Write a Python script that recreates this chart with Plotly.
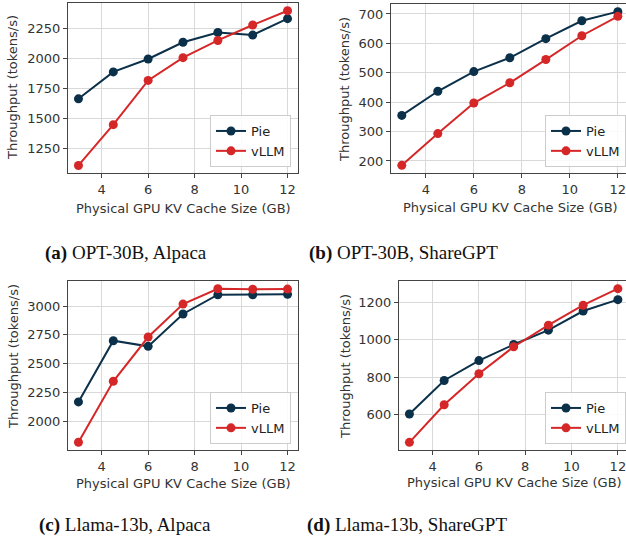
import plotly.graph_objects as go
from plotly.subplots import make_subplots

x_gb = [3, 4.5, 6, 7.5, 9, 10.5, 12]
x_ticks = [4, 6, 8, 10, 12]

a_pie = [1665, 1890, 1998, 2138, 2219, 2198, 2335]
a_vllm = [1108, 1449, 1819, 2009, 2153, 2282, 2401]
b_pie = [355, 437, 504, 551, 616, 677, 708]
b_vllm = [185, 293, 397, 466, 545, 626, 692]
c_pie = [2168, 2699, 2650, 2931, 3098, 3098, 3101]
c_vllm = [1818, 2347, 2731, 3017, 3150, 3145, 3147]
d_pie = [602, 782, 889, 975, 1052, 1155, 1216]
d_vllm = [450, 652, 818, 963, 1079, 1186, 1275]

a_yticks = [1250, 1500, 1750, 2000, 2250]
b_yticks = [200, 300, 400, 500, 600, 700]
c_yticks = [2000, 2250, 2500, 2750, 3000]
d_yticks = [600, 800, 1000, 1200]

captions = ["<b>(a)</b> OPT-30B, Alpaca", "<b>(b)</b> OPT-30B, ShareGPT",
            "<b>(c)</b> Llama-13b, Alpaca", "<b>(d)</b> Llama-13b, ShareGPT"]

PIE = "#0b3049"
VLLM = "#d62728"
W, H = 626, 546

fig = make_subplots(rows=2, cols=2)

panels = [
    (1, 1, a_pie, a_vllm, a_yticks, [2.55, 12.45], [1045, 2466], (68, 298, 3, 173), "legend"),
    (1, 2, b_pie, b_vllm, b_yticks, [2.55, 12.34], [159, 734], (391, 626, 4, 173), "legend2"),
    (2, 1, c_pie, c_vllm, c_yticks, [2.55, 12.45], [1751, 3217], (68, 298, 281, 450), "legend3"),
    (2, 2, d_pie, d_vllm, d_yticks, [2.55, 12.35], [409, 1316], (399, 626, 281, 450), "legend4"),
]

font_ax = dict(family="DejaVu Sans", size=13, color="#333333")

for i, (r, c, pie, vllm, yt, xr, yr, box, lg) in enumerate(panels):
    fig.add_trace(go.Scatter(x=x_gb, y=pie, name="Pie", mode="lines+markers",
                             line=dict(color=PIE, width=2), marker=dict(size=9, color=PIE),
                             legend=lg), row=r, col=c)
    fig.add_trace(go.Scatter(x=x_gb, y=vllm, name="vLLM", mode="lines+markers",
                             line=dict(color=VLLM, width=2), marker=dict(size=9, color=VLLM),
                             legend=lg), row=r, col=c)
    x0, x1, y0, y1 = box
    fig.update_xaxes(domain=[x0 / W, x1 / W], range=xr, tickvals=x_ticks,
                     showgrid=True, gridcolor="#d9d9d9", gridwidth=1,
                     showline=True, linecolor="#444444", linewidth=1, mirror=True,
                     ticks="outside", ticklen=4, tickcolor="#444444",
                     tickfont=font_ax, zeroline=False, ticklabeloverflow="allow",
                     row=r, col=c)
    fig.update_yaxes(domain=[1 - y1 / H, 1 - y0 / H], range=yr, tickvals=yt,
                     showgrid=True, gridcolor="#d9d9d9", gridwidth=1,
                     showline=True, linecolor="#444444", linewidth=1, mirror=True,
                     ticks="outside", ticklen=4, tickcolor="#444444",
                     tickfont=font_ax, zeroline=False, row=r, col=c)

legend_style = dict(bgcolor="rgba(255,255,255,0.85)", bordercolor="#cccccc", borderwidth=1,
                    font=dict(family="DejaVu Sans", size=13, color="#222222"),
                    xanchor="right", yanchor="bottom", tracegroupgap=0, itemwidth=30)
fig.update_layout(
    legend=dict(x=291 / W, y=1 - 167 / H, **legend_style),
    legend2=dict(x=1.0, y=1 - 167 / H, **legend_style),
    legend3=dict(x=291 / W, y=1 - 444 / H, **legend_style),
    legend4=dict(x=1.0, y=1 - 444 / H, **legend_style),
)

# axis titles
ytitle_pos = [(13, 88), (345, 90), (13, 357), (345, 367)]
xtitle_pos = [(183, 208), (510, 207), (183, 483), (514, 482)]
for (xx, yy) in ytitle_pos:
    fig.add_annotation(text="Throughput (tokens/s)", x=xx / W, y=1 - yy / H, xref="paper", yref="paper",
                       textangle=-90, showarrow=False, font=font_ax, xanchor="center", yanchor="middle")
for (xx, yy) in xtitle_pos:
    fig.add_annotation(text="Physical GPU KV Cache Size (GB)", x=xx / W, y=1 - yy / H, xref="paper", yref="paper",
                       showarrow=False, font=font_ax, xanchor="center", yanchor="middle")

cap_pos = [(126, 253), (403, 253), (125, 525), (407, 525)]
for cap, (xx, yy) in zip(captions, cap_pos):
    fig.add_annotation(text=cap, x=xx / W, y=1 - yy / H, xref="paper", yref="paper",
                       showarrow=False, font=dict(family="Liberation Serif", size=19, color="#111111"),
                       xanchor="center", yanchor="middle")

fig.update_layout(width=W, height=H, margin=dict(l=0, r=0, t=0, b=0, autoexpand=False),
                  paper_bgcolor="white", plot_bgcolor="white", showlegend=True)

fig.write_html("out.html", config={"displayModeBar": False},
               post_script="document.body.style.margin='0';document.body.style.overflow='hidden';")
